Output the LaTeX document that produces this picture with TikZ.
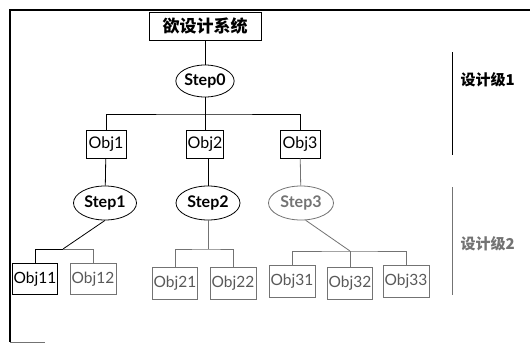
\documentclass[tikz,border=0pt]{standalone}
\usepackage{fontspec}
\setmainfont{Lato}
\newfontfamily\cjk{Noto Sans CJK SC}
\usetikzlibrary{shapes.geometric}
\definecolor{lv2}{gray}{0.45}
\definecolor{lv2t}{gray}{0.35}
\tikzset{
  conn/.style={line width=0.8pt, black},
  conng/.style={line width=0.8pt, lv2},
  topbox/.style={draw, line width=1pt, inner sep=0pt, minimum width=112pt, minimum height=28pt, font=\cjk\bfseries\fontsize{17}{17}\selectfont},
  stepell/.style={draw, ellipse, line width=0.8pt, inner sep=0pt, minimum width=60pt, minimum height=32pt, font=\bfseries\fontsize{16}{16}\selectfont},
  objbox/.style={draw, line width=0.8pt, inner sep=0pt, minimum width=37pt, minimum height=28pt, font=\fontsize{16}{16}\selectfont},
  objboxg/.style={draw=lv2, text=lv2t, line width=0.8pt, inner sep=0pt, minimum width=45pt, minimum height=31pt, font=\fontsize{15.5}{15.5}\selectfont},
  lvl/.style={font=\cjk\bfseries\fontsize{15}{15}\selectfont, anchor=west}
}
\begin{document}
\begin{tikzpicture}[x=1pt,y=-1pt]
\useasboundingbox (0,0) rectangle (530,343);
\fill[white] (0,0) rectangle (530,343);
% frame
\draw[line width=1.2pt] (530,10) -- (10,10) -- (10,342);
\draw[line width=0.8pt, lv2] (10,342) -- (45,342);
% level 1
\node[topbox] (top) at (205,26) {欲设计系统};
\node[stepell, minimum width=56pt] (s0) at (205,81) {Step0};
\node[objbox, minimum width=40pt] (o1) at (106,144) {Obj1};
\node[objbox, minimum width=37pt] (o2) at (205,144) {Obj2};
\node[objbox, minimum width=40pt] (o3) at (300,144) {Obj3};
\coordinate (b1) at (205,114);
\draw[conn] (top) -- (s0);
\draw[conn] (s0) -- (b1);
\draw[conn] (o1.north) |- (b1) -| (o3.north);
\draw[conn] (b1) -- (o2.north);
\node[stepell, minimum width=63pt, minimum height=34pt] (s1) at (105,203) {Step1};
\node[stepell, minimum width=64pt, minimum height=34pt] (s2) at (208,203) {Step2};
\node[stepell, minimum width=65pt, minimum height=34pt, draw=lv2, text=lv2] (s3) at (301,203) {Step3};
\draw[conn] (o1) -- (s1);
\draw[conn] (o2.south -| s2.north) -- (s2);
\draw[conng] (o3) -- (s3);
% level 2
\node[objboxg, draw=black, text=black] (o11) at (35,279) {Obj11};
\node[objboxg, minimum width=46pt] (o12) at (93,279) {Obj12};
\node[objboxg, minimum height=32pt] (o21) at (175,283) {Obj21};
\node[objboxg, minimum width=46pt, minimum height=32pt] (o22) at (233,283) {Obj22};
\node[objboxg, minimum width=46pt, minimum height=32pt] (o31) at (292,281) {Obj31};
\node[objboxg, minimum height=32pt] (o32) at (350,283) {Obj32};
\node[objboxg, minimum width=46pt, minimum height=32pt] (o33) at (406,281) {Obj33};
\coordinate (c1) at (63,249);
\coordinate (c2) at (208,249);
\coordinate (c3) at (350,251);
\draw[conn] (s1.south) -- (c1);
\draw[conn] (o11.north) |- (c1);
\draw[conng] (c1) -| (o12.north);
\draw[conng] (s2.south) -- (c2);
\draw[conng] (o21.north) |- (c2) -| (o22.north);
\draw[conng] (s3.-75) -- (c3);
\draw[conng] (o31.north) |- (c3) -| (o33.north);
\draw[conng] (c3) -- (o32.north);
% level separators and labels
\coordinate (sepa) at (452,52);
\coordinate (sepb) at (452,155);
\coordinate (sepc) at (452,187);
\coordinate (sepd) at (452,295);
\draw[line width=0.9pt] (sepa) -- (sepb);
\draw[line width=0.9pt, lv2] (sepc) -- (sepd);
\node[lvl] (l1) at (457,80) {设计级1};
\node[lvl, text=lv2] (l2) at (457,244) {设计级2};
\end{tikzpicture}
\end{document}
